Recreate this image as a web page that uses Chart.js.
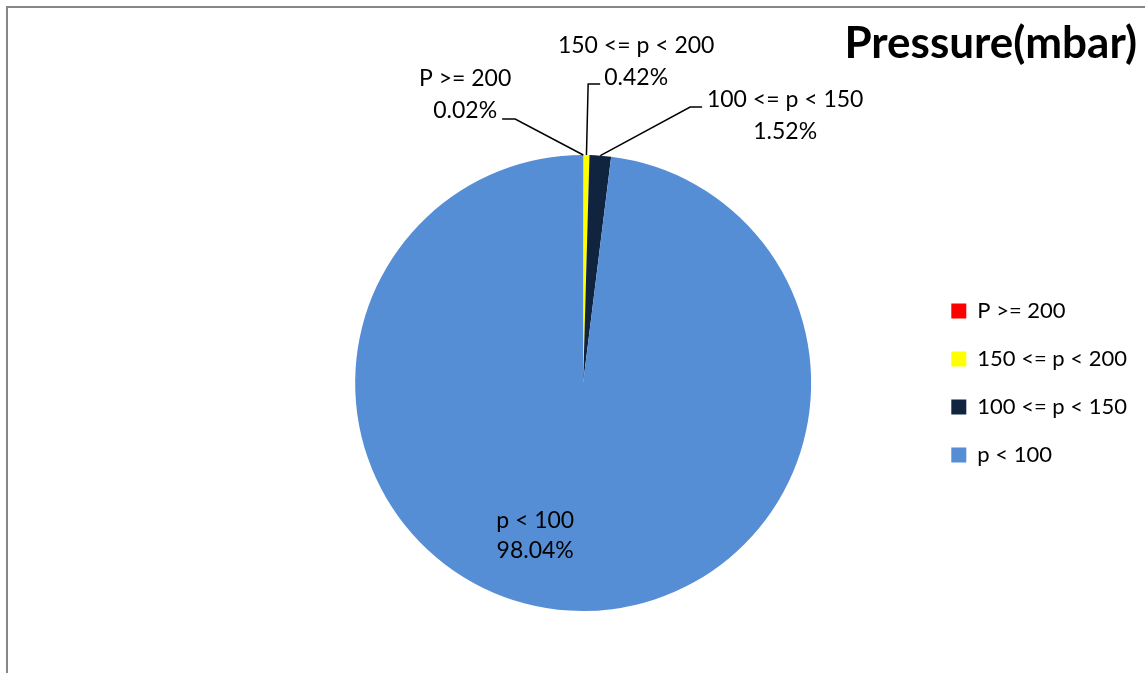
<!DOCTYPE html>
<html>
<head>
<meta charset="utf-8">
<title>Pressure(mbar)</title>
<script src="https://cdn.jsdelivr.net/npm/chart.js@4/dist/chart.umd.min.js"></script>
<style>
  html, body { margin: 0; padding: 0; background: #fff; overflow: hidden; }
  #moldura {
    position: absolute; left: 6px; top: 6px; width: 1200px; height: 700px;
    border-left: 2px solid #878787; border-top: 2px solid #878787;
  }
  #graficoPressao { position: absolute; left: 0; top: 0; }
</style>
</head>
<body>
<div id="moldura"><canvas id="graficoPressao" width="1129" height="665"></canvas></div>
<script>
// faixas de pressão e a participação de cada uma (%)
const categorias = ['P >= 200', '150 <= p < 200', '100 <= p < 150', 'p < 100'];
const percentuais = [0.02, 0.42, 1.52, 98.04];
const coresFatias = ['#FF0000', '#FFFF00', '#10243F', '#558ED5'];

// onde fica cada rótulo, em relação ao centro da pizza (linha de chamada: início e cotovelo)
const posRotulos = [
  { dx: -118, dy1: -304, dy2: -272, inicio: [-81, -264], cotovelo: [-68, -264] },
  { dx: 53, dy1: -337, dy2: -305, inicio: [17, -299], cotovelo: [5, -299] },
  { dx: 202, dy1: -283, dy2: -251, inicio: [119, -276], cotovelo: [107, -276] },
  { dx: -48, dy1: 138, dy2: 168 }
];

const fonteRotulo = '23px Lato';

// plugin simples para os rótulos com linha de chamada
const rotulosPizza = {
  id: 'rotulosPizza',
  afterDatasetsDraw(chart) {
    const ctx = chart.ctx;
    const arcos = chart.getDatasetMeta(0).data;
    ctx.save();
    ctx.font = fonteRotulo;
    ctx.fillStyle = '#000';
    ctx.strokeStyle = '#000';
    ctx.lineWidth = 1.5;
    ctx.textAlign = 'center';
    ctx.textBaseline = 'middle';
    arcos.forEach((arco, i) => {
      const p = arco.getProps(['x', 'y', 'startAngle', 'endAngle', 'outerRadius'], true);
      const meio = (p.startAngle + p.endAngle) / 2;
      const pos = posRotulos[i];
      if (pos.inicio) {
        const ax = p.x + Math.cos(meio) * p.outerRadius;
        const ay = p.y + Math.sin(meio) * p.outerRadius;
        ctx.beginPath();
        ctx.moveTo(p.x + pos.inicio[0], p.y + pos.inicio[1]);
        ctx.lineTo(p.x + pos.cotovelo[0], p.y + pos.cotovelo[1]);
        ctx.lineTo(ax, ay);
        ctx.stroke();
      }
      ctx.fillText(categorias[i], p.x + pos.dx, p.y + pos.dy1);
      ctx.fillText(percentuais[i].toFixed(2) + '%', p.x + pos.dx, p.y + pos.dy2);
    });
    ctx.restore();
  }
};

const ctx = document.getElementById('graficoPressao').getContext('2d');

const graficoPressao = new Chart(ctx, {
  type: 'pie',
  data: {
    labels: categorias,
    datasets: [{
      data: percentuais,
      backgroundColor: coresFatias,
      borderWidth: 0,
      hoverOffset: 0
    }]
  },
  options: {
    responsive: false,
    animation: false,
    layout: { padding: { left: 233, right: 0, top: 0, bottom: 62 } },
    plugins: {
      title: {
        display: true,
        text: 'Pressure(mbar)',
        align: 'end',
        color: '#000',
        font: { family: 'Lato', size: 44, weight: 'bold' },
        padding: { top: 9, bottom: 85.2 }
      },
      legend: {
        position: 'right',
        fullSize: false,
        labels: {
          color: '#000',
          font: { family: 'Lato', size: 22 },
          boxWidth: 15,
          boxHeight: 15,
          padding: 26
        }
      },
      tooltip: { enabled: false }
    }
  },
  plugins: [rotulosPizza]
});
</script>
</body>
</html>
